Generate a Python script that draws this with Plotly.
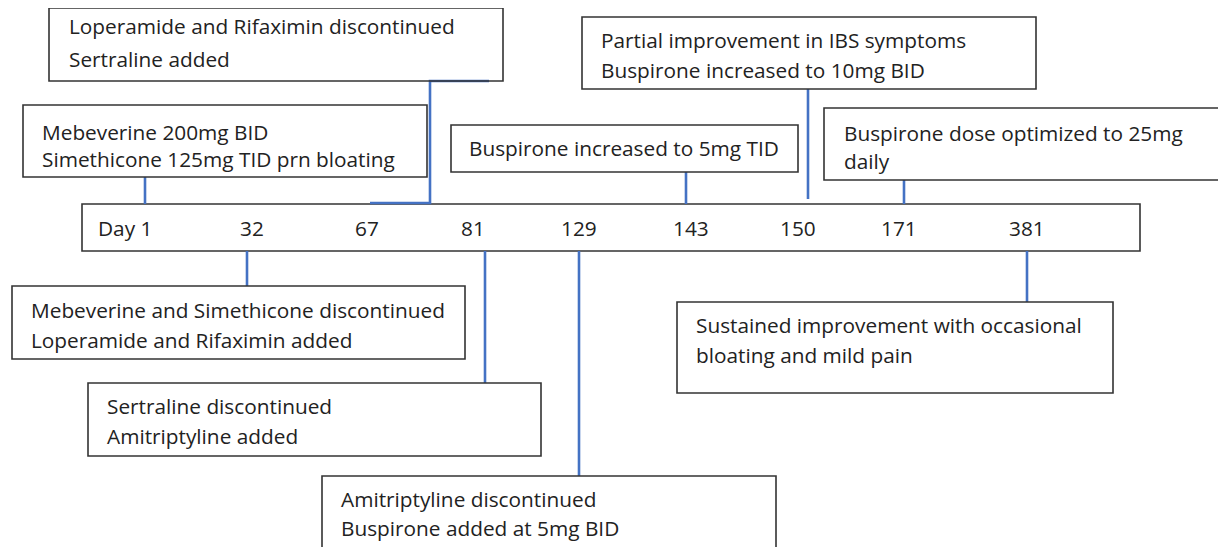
import plotly.graph_objects as go

# ---------------- data ----------------
day_labels = ["Day 1", "32", "67", "81", "129", "143", "150", "171", "381"]

event_days = ["Day 1", "32", "67", "81", "129", "143", "150", "171", "381"]
event_lines = [
    ["Mebeverine 200mg BID", "Simethicone 125mg TID prn bloating"],
    ["Mebeverine and Simethicone discontinued", "Loperamide and Rifaximin added"],
    ["Loperamide and Rifaximin discontinued", "Sertraline added"],
    ["Sertraline discontinued", "Amitriptyline added"],
    ["Amitriptyline discontinued", "Buspirone added at 5mg BID"],
    ["Buspirone increased to 5mg TID"],
    ["Partial improvement in IBS symptoms", "Buspirone increased to 10mg BID"],
    ["Buspirone dose optimized to 25mg", "daily"],
    ["Sustained improvement with occasional", "bloating and mild pain"],
]

# ---------------- layout (pixel canvas) ----------------
W, H = 1226, 547
OFF = 8  # page body margin
FONT = "Open Sans, Lato, sans-serif"
FS = 20.8
TXT = "#222222"
EDGE = "#333333"
BLUE = "#4472C4"

bar = dict(x0=82, x1=1140, y0=204, y1=251)
label_x = [125, 252, 367, 473, 579, 691, 798, 899, 1027]
label_y = 228

# box geometry: x0, x1, y0, y1, text left, first-line y, line gap
boxes = [
    (23, 427, 105, 177, 40, 132, 27),
    (12, 465, 286, 359, 29, 310, 30),
    (49, 503, 8, 81, 67, 26, 33),
    (88, 541, 383, 456, 105, 406, 30),
    (322, 776, 476, 560, 339, 499, 29),
    (451, 798, 125, 172, 467, 148, 0),
    (582, 1036, 17, 89, 599, 40, 30),
    (824, 1232, 108, 180, 842, 133, 28),
    (677, 1113, 302, 393, 694, 325, 30),
]
# connector paths per event
connectors = [
    [(145, 177), (145, 204)],
    [(247, 251), (247, 286)],
    [(489, 81), (430, 81), (430, 203), (370, 203)],
    [(485, 251), (485, 383)],
    [(579, 251), (579, 476)],
    [(686, 172), (686, 204)],
    [(808, 89), (808, 199)],
    [(904, 180), (904, 204)],
    [(1027, 251), (1027, 302)],
]

fig = go.Figure()
shapes = []
annotations = []

shapes.append(dict(type="rect", xref="x", yref="y", **bar,
                   line=dict(color=EDGE, width=1.6), fillcolor="white", layer="below"))
for lab, lx in zip(day_labels, label_x):
    annotations.append(dict(x=lx, y=label_y, xref="x", yref="y", text=lab,
                            showarrow=False, xanchor="center", yanchor="middle",
                            font=dict(family=FONT, size=FS, color=TXT)))

for path in connectors:
    xs = [p[0] for p in path]
    ys = [p[1] for p in path]
    fig.add_trace(go.Scatter(x=xs, y=ys, mode="lines", hoverinfo="skip",
                             line=dict(color=BLUE, width=2.6), showlegend=False))

for lines, (x0, x1, y0, y1, tx, ty, gap) in zip(event_lines, boxes):
    shapes.append(dict(type="rect", xref="x", yref="y", x0=x0, x1=x1, y0=y0, y1=y1,
                       line=dict(color=EDGE, width=1.6), fillcolor="rgba(0,0,0,0)"))
    for i, ln in enumerate(lines):
        annotations.append(dict(x=tx, y=ty + i * gap, xref="x", yref="y", text=ln,
                                showarrow=False, xanchor="left", yanchor="middle",
                                font=dict(family=FONT, size=FS, color=TXT)))

fig.update_layout(
    width=W - OFF, height=H - OFF,
    margin=dict(l=0, r=0, t=0, b=0),
    paper_bgcolor="white", plot_bgcolor="white",
    xaxis=dict(range=[OFF, W], visible=False, fixedrange=True),
    yaxis=dict(range=[H, OFF], visible=False, fixedrange=True),
    shapes=shapes, annotations=annotations, showlegend=False,
)

fig.write_html("out.html", config={"displayModeBar": False})
